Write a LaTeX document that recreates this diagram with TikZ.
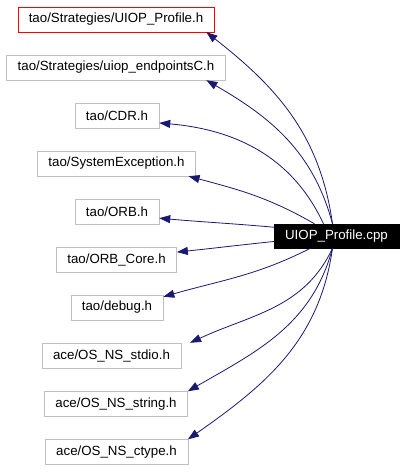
\documentclass[tikz,border=0pt]{standalone}
\usepackage{fontspec}
\setmainfont{Liberation Sans}
\usetikzlibrary{arrows.meta}
\definecolor{edgeblue}{RGB}{25,25,112}
\definecolor{boxgrey}{RGB}{191,191,191}

\begin{document}
\begin{tikzpicture}[x=1pt,y=1pt,
        hdr/.style={draw=boxgrey, fill=white, minimum height=25pt, inner xsep=11pt, inner ysep=0pt, font=\fontsize{13.3}{16}\selectfont},
        mainhdr/.style={hdr, draw=red},
        srcfile/.style={hdr, draw=black, fill=black, text=white, minimum height=24pt},
        dep/.style={draw=edgeblue, line width=0.8pt, -{Triangle[length=11pt,width=8pt]}}]

        \useasboundingbox (0,0) rectangle (405,-469);

        \node[mainhdr] (h1) at (116,-19.5) {tao/Strategies/UIOP\_Profile.h};
        \node[hdr] (h2) at (116,-67.5) {tao/Strategies/uiop\_endpointsC.h};
        \node[hdr] (h3) at (117,-115.5) {tao/CDR.h};
        \node[hdr] (h4) at (116.5,-163.5) {tao/SystemException.h};
        \node[hdr] (h5) at (117,-211.5) {tao/ORB.h};
        \node[hdr] (h6) at (116.5,-259.5) {tao/ORB\_Core.h};
        \node[hdr] (h7) at (117,-307.5) {tao/debug.h};
        \node[hdr] (h8) at (111.5,-355.5) {ace/OS\_NS\_stdio.h};
        \node[hdr] (h9) at (116,-404) {ace/OS\_NS\_string.h};
        \node[hdr] (h10) at (116.5,-452) {ace/OS\_NS\_ctype.h};
        \node[srcfile] (cpp) at (336.5,-236) {UIOP\_Profile.cpp};

        \draw[dep] ([xshift=-4pt]cpp.north) to[out=98,in=-38] (h1.-8);
        \draw[dep] ([xshift=-4pt]cpp.north) to[out=105,in=-30] (h2.-8);
        \draw[dep] ([xshift=-13pt]cpp.north) to[out=115,in=-5] (h3.-10);
        \draw[dep] ([xshift=-22pt]cpp.north) to[out=150,in=-15] (h4.-10);
        \draw[dep] (cpp.172) to[out=175,in=-5] (h5.-9);
        \draw[dep] (cpp.-175) to[out=186,in=6] (h6.7);
        \draw[dep] ([xshift=-26pt]cpp.south) to[out=207,in=16] (h7.13);
        \draw[dep] ([xshift=-4pt]cpp.south) to[out=-115,in=25] ([xshift=9pt]h8.north east);
        \draw[dep] ([xshift=-4pt]cpp.south) to[out=-105,in=30] (h9.north east);
        \draw[dep] ([xshift=-4pt]cpp.south) to[out=-98,in=35] (h10.north east);

    \end{tikzpicture}
\end{document}
